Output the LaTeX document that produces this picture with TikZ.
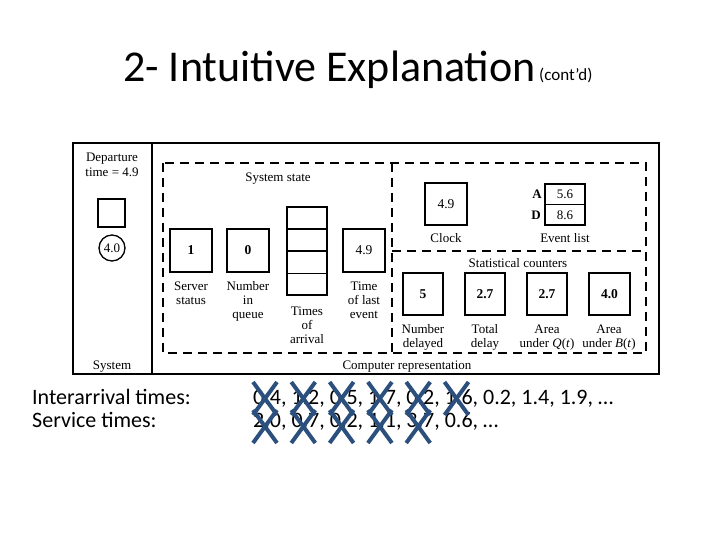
\documentclass[tikz,border=0pt]{standalone}
\usepackage{fontspec}
\setmainfont{Liberation Serif}
\newfontfamily\carlitofont{Carlito}
\definecolor{xblue}{RGB}{44,80,126}
\tikzset{
  frame/.style={line width=1.4pt},
  dbox/.style={draw, dash pattern=on 9pt off 6pt, line width=1.4pt},
  vbox/.style={draw, line width=1.5pt, inner sep=0pt, font=\fontsize{13.5}{14}\selectfont},
  lbl/.style={anchor=base, inner sep=0pt, font=\fontsize{13}{14}\selectfont, align=center},
  xmark/.style={line width=4pt, xblue},
}
\begin{document}
\begin{tikzpicture}[x=1pt,y=-1pt]
\useasboundingbox (0,0) rectangle (720,540);
% title
\node[anchor=base west, inner sep=0pt, font=\carlitofont\fontsize{44}{48}\selectfont] (title) at (123,82) {2- Intuitive Explanation};
\node[anchor=base west, inner sep=0pt, font=\carlitofont\fontsize{17}{18}\selectfont] (contd) at (539,81) {(cont’d)};
% frame
\draw[frame] (73,143) rectangle (659,374);
\draw[frame] (152,143) -- (152,374);
% dashed regions
\draw[dbox] (163,163) rectangle (646,353);
\draw[dbox] (392,163) -- (392,353);
\draw[dbox] (392,251) -- (646,251);
% system side
\node[lbl] (dep1) at (112,162) {Departure};
\node[lbl] (dep2) at (112,177) {time = 4.9};
\draw[line width=1.3pt] (98,199) rectangle (125,227);
\node[draw, circle, line width=1.3pt, minimum size=26pt, inner sep=0pt, font=\fontsize{13}{14}\selectfont] (cust) at (112,248) {4.0};
\node[lbl] (sys) at (112,369) {System};
\node[lbl] (comp) at (407,369) {Computer representation};
% system state
\node[lbl] (sstate) at (278,182) {System state};
\node[vbox, minimum width=42pt, minimum height=43pt] (srv) at (191,250.5) {\textbf{1}};
\node[vbox, minimum width=42pt, minimum height=43pt] (nq) at (248,250.5) {\textbf{0}};
\node[vbox, minimum width=42pt, minimum height=43pt] (tle) at (364,250.5) {4.9};
\draw[line width=1.5pt] (287,207) rectangle (327,295);
\draw[line width=1.5pt] (287,229) -- (327,229);
\draw[line width=1.5pt] (287,251) -- (327,251);
\draw[line width=1pt] (287,273) -- (327,273);
\node[lbl, anchor=north] (srvl) at (191,281.5) {Server\\status};
\node[lbl, anchor=north] (nql) at (248,281.5) {Number\\in\\queue};
\node[lbl, anchor=north] (tal) at (307,306.5) {Times\\of\\arrival};
\node[lbl, anchor=north] (tlel) at (364,281.5) {Time\\of last\\event};
% clock and event list
\node[vbox, minimum width=42pt, minimum height=42pt] (clk) at (446,204) {4.9};
\node[lbl] (clkl) at (446,242) {Clock};
\draw[line width=1.5pt] (545,184) rectangle (585,225);
\draw[line width=1.5pt] (545,204.5) -- (585,204.5);
\node[lbl] (evA) at (565,199) {5.6};
\node[lbl] (evD) at (565,220) {8.6};
\node[lbl, font=\bfseries\fontsize{13}{14}\selectfont] (lA) at (537,199) {A};
\node[lbl, font=\bfseries\fontsize{13}{14}\selectfont] (lD) at (536,220) {D};
\node[lbl] (evl) at (565,242) {Event list};
% statistical counters
\node[lbl] (stc) at (518,267) {Statistical counters};
\node[vbox, minimum width=40pt, minimum height=42pt] (c1) at (423,294) {\textbf{5}};
\node[vbox, minimum width=40pt, minimum height=42pt] (c2) at (485,294) {\textbf{2.7}};
\node[vbox, minimum width=40pt, minimum height=42pt] (c3) at (547,294) {\textbf{2.7}};
\node[vbox, minimum width=41pt, minimum height=42pt] (c4) at (609.5,294) {\textbf{4.0}};
\node[lbl] (c1a) at (423,333) {Number};
\node[lbl] (c1b) at (423,347) {delayed};
\node[lbl] (c2a) at (485,333) {Total};
\node[lbl] (c2b) at (485,347) {delay};
\node[lbl] (c3a) at (547,333) {Area};
\node[lbl] (c3b) at (547,347) {under \textit{Q}(\textit{t})};
\node[lbl] (c4a) at (609,333) {Area};
\node[lbl] (c4b) at (609,347) {under \textit{B}(\textit{t})};
% bottom text
\node[anchor=base west, inner sep=0pt, font=\carlitofont\fontsize{22}{24}\selectfont] (ia) at (32,404) {Interarrival times:};
\node[anchor=base west, inner sep=0pt, font=\carlitofont\fontsize{22}{24}\selectfont] (st) at (32,427) {Service times:};
\node[anchor=base west, inner sep=0pt, font=\carlitofont\fontsize{22}{24}\selectfont] (iav) at (253,404) {0.4, 1.2, 0.5, 1.7, 0.2, 1.6, 0.2, 1.4, 1.9, …};
\node[anchor=base west, inner sep=0pt, font=\carlitofont\fontsize{22}{24}\selectfont] (stv) at (253,427) {2.0, 0.7, 0.2, 1.1, 3.7, 0.6, …};
% crosses
\foreach \i in {0,...,5} {
  \pgfmathsetmacro{\cx}{265+38.3*\i}
  \draw[xmark] (\cx-12,382) -- (\cx+12,415);
  \draw[xmark] (\cx+12,382) -- (\cx-12,415);
}
\foreach \i in {0,...,4} {
  \pgfmathsetmacro{\cx}{265+38.3*\i}
  \draw[xmark] (\cx-12,410) -- (\cx+12,443);
  \draw[xmark] (\cx+12,410) -- (\cx-12,443);
}
\end{tikzpicture}
\end{document}
